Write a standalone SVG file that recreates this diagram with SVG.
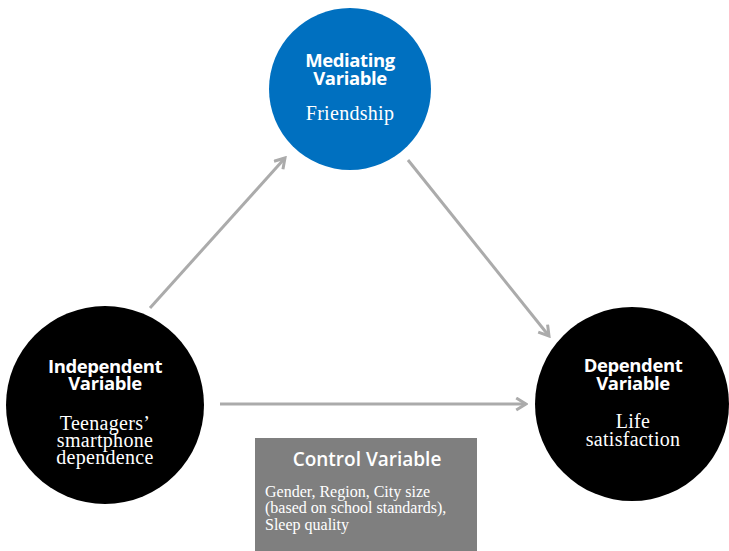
<svg xmlns="http://www.w3.org/2000/svg" width="729" height="551" viewBox="0 0 729 551">
<defs>
<style>
.title{font-family:"Open Sans","Noto Sans",sans-serif;font-weight:bold;fill:#fff;text-anchor:middle;font-size:18.5px;letter-spacing:-0.4px}
.body{font-family:"Liberation Serif",serif;fill:#fff;text-anchor:middle;font-size:20px;letter-spacing:0.3px}
.ctl{font-family:"Liberation Serif",serif;fill:#fff;font-size:16px}
.conn{stroke:#ababab;stroke-width:3;fill:none;marker-end:url(#arr)}
</style>
<marker id="arr" viewBox="0 0 10 10" refX="8.5" refY="5" markerWidth="5" markerHeight="5" orient="auto" markerUnits="strokeWidth">
<polyline points="2,1 8.5,5 2,9" fill="none" stroke="#ababab" stroke-width="2"/>
</marker>
</defs>
<rect width="729" height="551" fill="#fff"/>
<g id="connectors">
<line class="conn" x1="150" y1="308" x2="285" y2="158"/>
<line class="conn" x1="408" y1="160" x2="549" y2="336"/>
<line class="conn" x1="220" y1="404" x2="526" y2="404"/>
</g>
<g id="mediating">
<circle cx="350" cy="89" r="81" fill="#0070c0"/>
<text class="title" x="350" y="67">Mediating</text>
<text class="title" x="350" y="85">Variable</text>
<text class="body" x="350" y="120">Friendship</text>
</g>
<g id="independent">
<circle cx="105" cy="405" r="99" fill="#000"/>
<text class="title" x="105" y="373">Independent</text>
<text class="title" x="105" y="390">Variable</text>
<text class="body" x="105" y="430">Teenagers’</text>
<text class="body" x="105" y="447">smartphone</text>
<text class="body" x="105" y="464">dependence</text>
</g>
<g id="dependent">
<circle cx="632" cy="404" r="97" fill="#000"/>
<text class="title" x="633" y="372">Dependent</text>
<text class="title" x="633" y="390">Variable</text>
<text class="body" x="633" y="428">Life</text>
<text class="body" x="633" y="446">satisfaction</text>
</g>
<g id="control">
<rect x="255" y="438" width="222" height="120" fill="#7f7f7f"/>
<text x="367" y="466" font-family="'Open Sans','Noto Sans',sans-serif" font-weight="600" font-size="19" fill="#fff" text-anchor="middle">Control Variable</text>
<text class="ctl" x="265" y="497">Gender, Region, City size</text>
<text class="ctl" x="265" y="513">(based on school standards),</text>
<text class="ctl" x="265" y="530">Sleep quality</text>
</g>
</svg>
